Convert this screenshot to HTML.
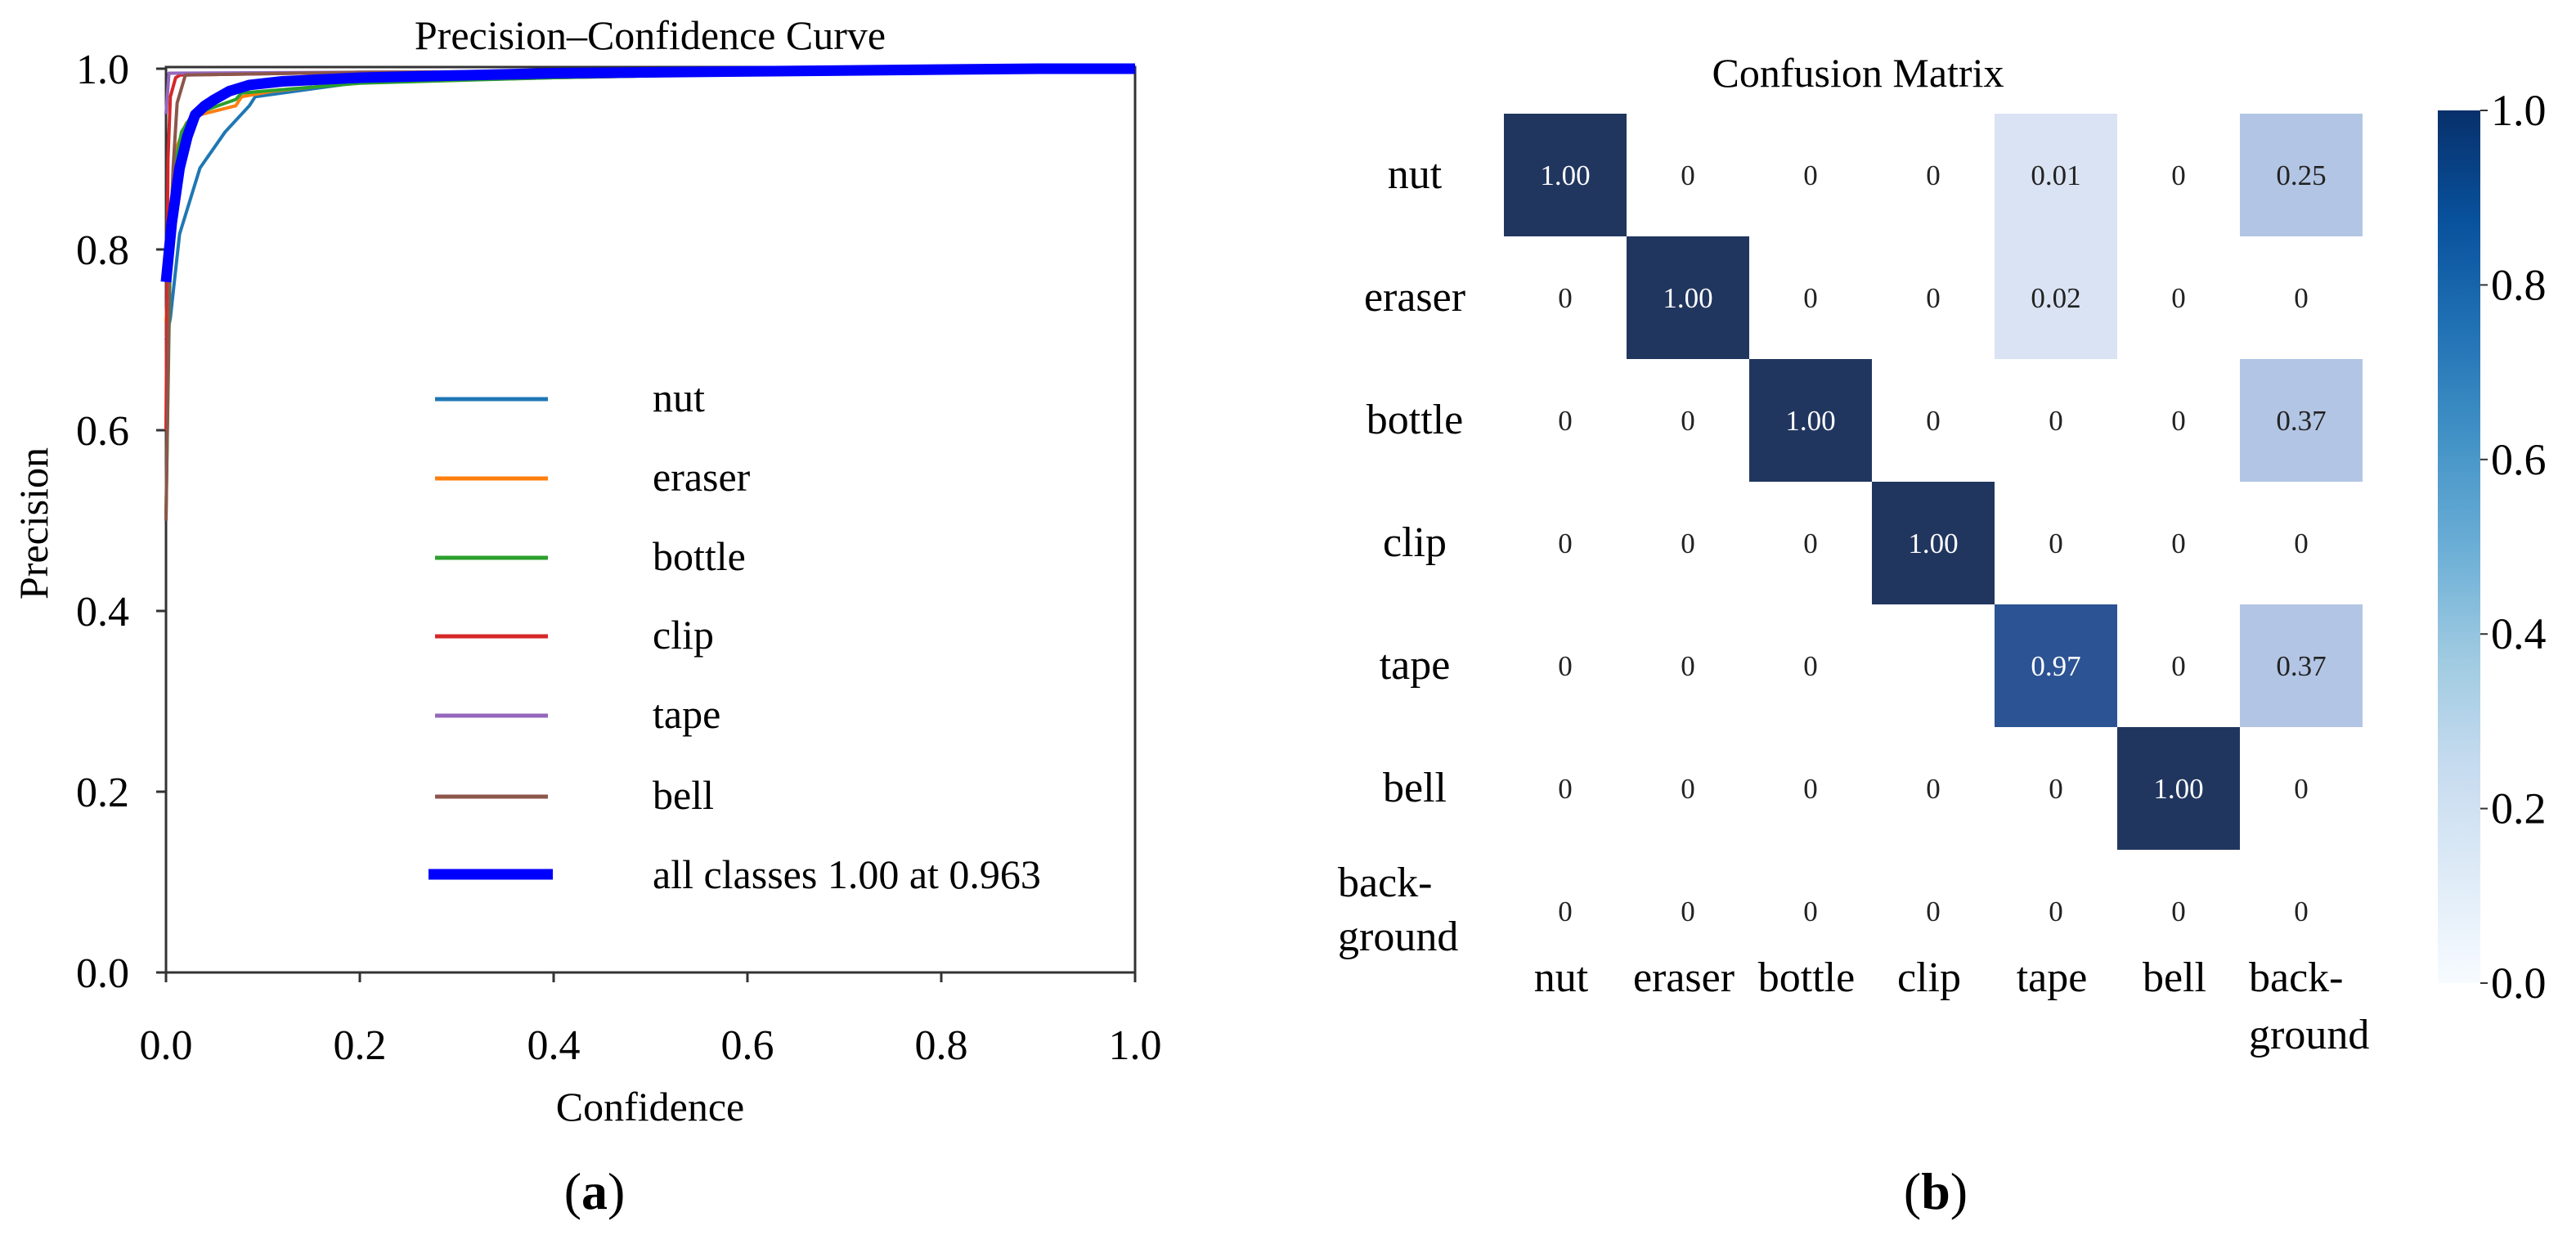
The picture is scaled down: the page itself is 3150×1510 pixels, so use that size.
<!DOCTYPE html>
<html><head><meta charset="utf-8"><style>
body{margin:0;background:#fff;}
svg{display:block;font-family:"Liberation Serif",serif;}
</style></head><body>
<svg id="root" width="3150" height="1510" viewBox="0 0 3150 1510" xmlns="http://www.w3.org/2000/svg">
<g id="left"></g>
<g id="right"></g>
<text x="727" y="1478" font-size="64" text-anchor="middle">(<tspan font-weight="bold">a</tspan>)</text>
<text x="2367" y="1478" font-size="64" text-anchor="middle">(<tspan font-weight="bold">b</tspan>)</text>
</svg>
<script>
// ---- Precision-Confidence data ----
const classNames = ["nut","eraser","bottle","clip","tape","bell"];
const classColors = ["#1f77b4","#ff7f0e","#2ca02c","#d62728","#9467bd","#8c564b"];
const nutConf = [0,0.0045,0.014,0.035,0.061,0.086,0.092,0.2,0.4,0.8,1];
const nutPrec = [0.70,0.724,0.817,0.89,0.93,0.959,0.969,0.985,0.99,0.998,1];
const eraserConf = [0,0.004,0.01,0.021,0.035,0.072,0.078,0.109,0.2,0.4,0.8,1];
const eraserPrec = [0.72,0.80,0.91,0.94,0.949,0.959,0.969,0.975,0.985,0.99,0.998,1];
const bottleConf = [0,0.0045,0.0087,0.016,0.027,0.072,0.078,0.2,0.4,0.8,1];
const bottlePrec = [0.506,0.80,0.89,0.93,0.949,0.966,0.973,0.984,0.99,0.998,1];
const clipConf = [0,0.002,0.0045,0.01,0.0146,0.2,1];
const clipPrec = [0.60,0.90,0.969,0.99,0.993,0.996,1];
const tapeConf = [0,0.003,0.2,1];
const tapePrec = [0.95,0.995,0.996,1];
const bellConf = [0,0.004,0.0073,0.0115,0.02,0.2,1];
const bellPrec = [0.50,0.80,0.89,0.962,0.993,0.996,1];
const allConf = [0,0.006,0.014,0.022,0.030,0.04,0.05,0.065,0.086,0.12,0.2,0.4,0.9,1];
const allPrec = [0.764,0.83,0.89,0.925,0.949,0.959,0.966,0.975,0.982,0.986,0.99,0.995,1,1];
const xTicks = [0,0.2,0.4,0.6,0.8,1.0];
const yTicks = [0,0.2,0.4,0.6,0.8,1.0];
const allLabel = "all classes 1.00 at 0.963";

// ---- Confusion matrix data ----
const rowLabels = ["nut","eraser","bottle","clip","tape","bell","back-ground"];
const colLabels = ["nut","eraser","bottle","clip","tape","bell","back-ground"];
const matrixValues = [
 [1.00,0,0,0,0.01,0,0.25],
 [0,1.00,0,0,0.02,0,0],
 [0,0,1.00,0,0,0,0.37],
 [0,0,0,1.00,0,0,0],
 [0,0,0,null,0.97,0,0.37],
 [0,0,0,0,0,1.00,0],
 [0,0,0,0,0,0,0]
];
const cbarTicks = [0,0.2,0.4,0.6,0.8,1.0];

const NS="http://www.w3.org/2000/svg";
function mk(tag, parent, attrs){const e=document.createElementNS(NS,tag);for(const k in attrs)e.setAttribute(k,attrs[k]);parent.appendChild(e);return e;}

// Left chart
const L=document.getElementById('left');
const X0=203,X1=1388,Y0=1189,Y1=84;
const xs=v=>X0+(X1-X0)*v, ys=v=>Y0-(Y0-Y1)*v;
let t=mk('text',L,{x:795,y:60,'font-size':50,'text-anchor':'middle'});t.textContent="Precision–Confidence Curve";


const frame=mk('rect',L,{x:X0,y:82,width:X1-X0,height:Y0-82,fill:'none',stroke:'#333','stroke-width':3});


xTicks.forEach(v=>{
  const l=mk('line',L,{x1:xs(v),x2:xs(v),y1:Y0,y2:Y0+12,stroke:'#333','stroke-width':3});
  
  
  const tx=mk('text',L,{x:xs(v),y:1295,'font-size':52,'text-anchor':'middle'});tx.textContent=v.toFixed(1);
  
  
});
yTicks.forEach(v=>{
  const l=mk('line',L,{x1:X0-12,x2:X0,y1:ys(v),y2:ys(v),stroke:'#333','stroke-width':3});
  
  
  const tx=mk('text',L,{x:158,y:ys(v)+18,'font-size':52,'text-anchor':'end'});tx.textContent=v.toFixed(1);
  
  
});
t=mk('text',L,{x:795,y:1370,'font-size':50,'text-anchor':'middle'});t.textContent="Confidence";


t=mk('text',L,{x:0,y:0,'font-size':50,'text-anchor':'middle',transform:'translate(58,640) rotate(-90)'});t.textContent="Precision";


const series=[[nutConf,nutPrec],[eraserConf,eraserPrec],[bottleConf,bottlePrec],[clipConf,clipPrec],[tapeConf,tapePrec],[bellConf,bellPrec]];
function pathOf(c,p){return c.map((v,i)=>(i?'L':'M')+xs(v).toFixed(1)+','+ys(p[i]).toFixed(1)).join(' ');}
series.forEach((s,i)=>{
  const p=mk('path',L,{d:pathOf(s[0],s[1]),fill:'none',stroke:classColors[i],'stroke-width':4,'stroke-linejoin':'round'});
  
  
});
const ap=mk('path',L,{d:pathOf(allConf,allPrec),fill:'none',stroke:'#0000ff','stroke-width':13,'stroke-linejoin':'round'});


const legY=[488,585,682,778,875,974];
classNames.forEach((n,i)=>{
  const l=mk('line',L,{x1:532,x2:670,y1:legY[i],y2:legY[i],stroke:classColors[i],'stroke-width':5});
  
  
  const tx=mk('text',L,{x:798,y:legY[i]+15,'font-size':50});tx.textContent=n;
  
  
});
let l2=mk('line',L,{x1:524,x2:676,y1:1069,y2:1069,stroke:'#0000ff','stroke-width':13});


t=mk('text',L,{x:798,y:1086,'font-size':50});t.textContent=allLabel;



// Right chart
const R=document.getElementById('right');
const MX=1839,MY=139,CW=150,CH=150;
t=mk('text',R,{x:2272,y:106,'font-size':50,'text-anchor':'middle'});t.textContent="Confusion Matrix";


function cellColor(v){
  if(v===null||v<=0) return null;
  if(v>=0.99) return '#21365f';
  if(v>=0.9) return '#2c5393';
  if(v>=0.2) return '#b2c5e4';
  return '#dae3f3';
}
matrixValues.forEach((row,r)=>row.forEach((v,c)=>{
  const col=cellColor(v);
  if(col){const rc=mk('rect',R,{x:MX+c*CW,y:MY+r*CH,width:CW,height:CH,fill:col});
    
    }
  if(v!==null){
    const tx=mk('text',R,{x:MX+c*CW+CW/2,y:MY+r*CH+CH/2+12,'font-size':35,'text-anchor':'middle',fill:(v>0.5?'#fff':'#222')});
    tx.textContent=v===0?'0':v.toFixed(2);
    
    
  }
}));
rowLabels.forEach((n,r)=>{
  const cy=MY+r*CH+CH/2;
  if(n==='back-ground'){
    let a=mk('text',R,{x:1636,y:cy-18,'font-size':52});a.textContent='back-';
    
    
    a=mk('text',R,{x:1636,y:cy+48,'font-size':52});a.textContent='ground';
    
    
  } else {
    const a=mk('text',R,{x:1730,y:cy+16,'font-size':52,'text-anchor':'middle'});a.textContent=n;
    
    
  }
});
colLabels.forEach((n,c)=>{
  const cx=MX+c*CW+CW/2;
  if(n==='back-ground'){
    let a=mk('text',R,{x:2750,y:1212,'font-size':52});a.textContent='back-';
    
    
    a=mk('text',R,{x:2750,y:1282,'font-size':52});a.textContent='ground';
    
    
  } else {
    const a=mk('text',R,{x:cx-5,y:1212,'font-size':52,'text-anchor':'middle'});a.textContent=n;
    
    
  }
});
// colorbar
const defs=mk('defs',R,{});
const g=mk('linearGradient',defs,{id:'blues',x1:0,y1:1,x2:0,y2:0});
[['0','#f7fbff'],['0.125','#deebf7'],['0.25','#c6dbef'],['0.375','#9ecae1'],['0.5','#6baed6'],['0.625','#4292c6'],['0.75','#2171b5'],['0.875','#08519c'],['1','#08306b']].forEach(s=>mk('stop',g,{offset:s[0],'stop-color':s[1]}));
const CB0=1202,CB1=135;
const cb=mk('rect',R,{x:2981,y:CB1,width:52,height:CB0-CB1,fill:'url(#blues)'});


cbarTicks.forEach(v=>{
  const y=CB0-(CB0-CB1)*v;
  const l=mk('line',R,{x1:3033,x2:3042,y1:y,y2:y,stroke:'#333','stroke-width':2});
  
  
  const tx=mk('text',R,{x:3046,y:y+18,'font-size':54});tx.textContent=v.toFixed(1);
  
  
});
</script>
</body></html>
